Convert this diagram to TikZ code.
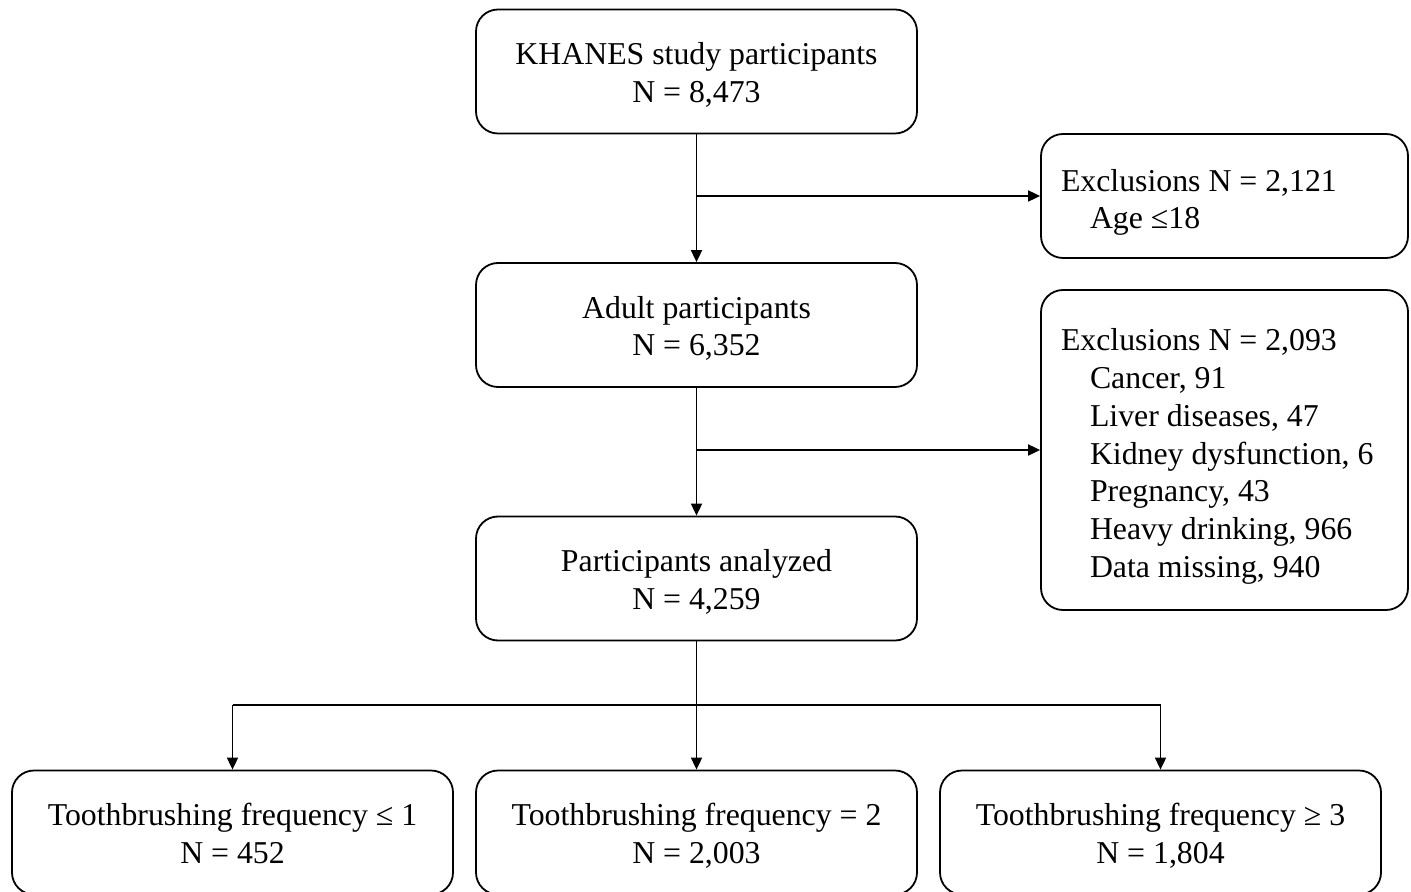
\documentclass[tikz,border=0pt]{standalone}
\usepackage{fontspec}
\setmainfont{Liberation Serif}
\usepackage{tikz}
\usetikzlibrary{arrows.meta,positioning,calc}

\tikzset{
  flowbox/.style={draw, line width=0.9pt, rounded corners=11pt, align=flush center,
    text width=220.5pt, minimum height=62pt, inner sep=0pt,
    font=\fontsize{15.9}{18.8}\selectfont,
    execute at begin node={\rule{0pt}{14.5pt}},
    execute at end node={\rule[-2.3pt]{0pt}{1pt}}},
  exclbox/.style={draw, line width=0.9pt, rounded corners=11pt, align=flush left,
    text width=163.5pt, inner xsep=10pt, inner ysep=0pt, minimum width=183.5pt,
    font=\fontsize{15.9}{18.9}\selectfont,
    execute at begin node={\rule{0pt}{17.5pt}}},
  flowarrow/.style={line width=0.9pt, -{Triangle[length=6pt,width=5.5pt]}},
  flowline/.style={line width=0.9pt}
}
\newcommand{\ind}{\hspace*{14.5pt}}

\begin{document}
\begin{tikzpicture}[x=0.5pt,y=0.5pt]
  \useasboundingbox (0,0) rectangle (1411,-892);
  \node[flowbox] (khanes) at (696.5,-71.5) {KHANES study participants\\N = 8,473};
  \node[exclbox, minimum height=62pt] (excla) at (1224.5,-196) {Exclusions N = 2,121\\\ind Age ≤18};
  \node[flowbox] (adult) at (696.5,-325) {Adult participants\\N = 6,352};
  \node[exclbox, minimum height=160pt] (exclb) at (1224.5,-450)
    {Exclusions N = 2,093\\\ind Cancer, 91\\\ind Liver diseases, 47\\\ind Kidney dysfunction, 6\\
     \ind Pregnancy, 43\\\ind Heavy drinking, 966\\\ind Data missing, 940};
  \node[flowbox] (analyzed) at (696.5,-578.5) {Participants analyzed\\N = 4,259};
  \node[flowbox] (freqa) at (232.5,-832.5) {Toothbrushing frequency ≤ 1\\N = 452};
  \node[flowbox] (freqb) at (696.5,-832.5) {Toothbrushing frequency = 2\\N = 2,003};
  \node[flowbox] (freqc) at (1160.5,-832.5) {Toothbrushing frequency ≥ 3\\N = 1,804};

  \coordinate (brancha) at (khanes.south |- excla.west);
  \coordinate (branchb) at (adult.south |- exclb.west);
  \coordinate (split) at (696.5,-705);

  \draw[flowarrow] (khanes.south) -- (adult.north);
  \draw[flowarrow] (brancha) -- (excla.west);
  \draw[flowarrow] (adult.south) -- (analyzed.north);
  \draw[flowarrow] (branchb) -- (exclb.west);
  \draw[flowline] (analyzed.south) -- (split);
  \draw[flowline] (freqa.north |- split) -- (freqc.north |- split);
  \draw[flowarrow] (freqa.north |- split) -- (freqa.north);
  \draw[flowarrow] (split) -- (freqb.north);
  \draw[flowarrow] (freqc.north |- split) -- (freqc.north);
\end{tikzpicture}
\end{document}
